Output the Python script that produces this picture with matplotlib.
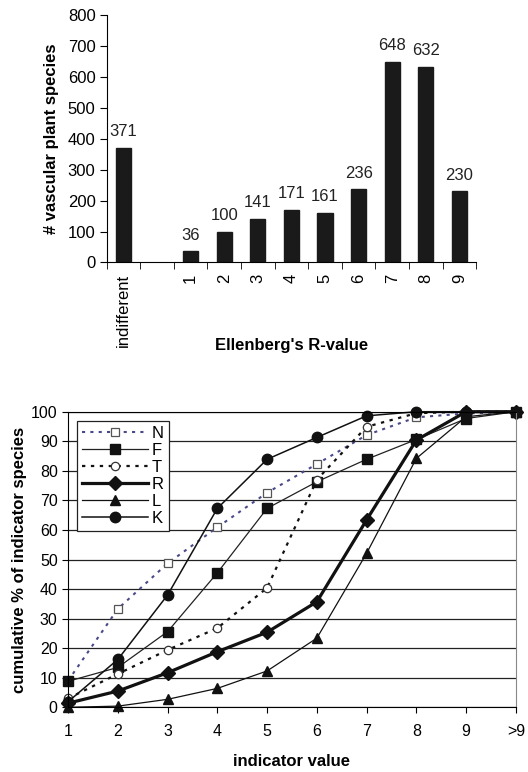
import numpy as np
import matplotlib
matplotlib.use('Agg')
import matplotlib.pyplot as plt

plt.rcParams['font.family'] = ['Liberation Sans', 'DejaVu Sans']

# top chart: number of species per Ellenberg R-value
r_categories = ['indifferent', '', '1', '2', '3', '4', '5', '6', '7', '8', '9']
r_counts = [371, None, 36, 100, 141, 171, 161, 236, 648, 632, 230]

# bottom chart: cumulative % of indicator species
ind_values = ['1', '2', '3', '4', '5', '6', '7', '8', '9', '>9']
cum_N = [9.0, 33.3, 48.7, 60.9, 72.6, 82.3, 92.1, 98.1, 99.4, 100]
cum_F = [8.8, 13.5, 25.6, 45.5, 67.3, 76.3, 83.9, 90.6, 97.7, 100]
cum_T = [3.0, 11.3, 19.4, 26.8, 40.4, 77.0, 94.9, 99.5, 100, 100]
cum_R = [1.4, 5.5, 11.7, 18.8, 25.4, 35.7, 63.4, 90.4, 100, 100]
cum_L = [0.0, 0.4, 2.7, 6.4, 12.3, 23.4, 52.1, 84.2, 98.3, 100]
cum_K = [1.9, 16.2, 38.0, 67.3, 83.9, 91.3, 98.6, 100, 100, 100]

fig = plt.figure(figsize=(5.28, 7.72), dpi=100)

# ---- top bar chart ----
ax1 = fig.add_axes([0.202, 0.660, 0.700, 0.3206])
xs = [i for i, v in enumerate(r_counts) if v is not None]
vals = [v for v in r_counts if v is not None]
ax1.bar(xs, vals, width=0.45, color='#1a1a1a', edgecolor='#1a1a1a')
for x, v in zip(xs, vals):
    ax1.text(x, v + 28, str(v), ha='center', va='bottom', fontsize=12, color='#222222')

ax1.set_xlim(-0.5, len(r_categories) - 0.5)
ax1.set_ylim(0, 800)
ax1.set_yticks(range(0, 801, 100))
ax1.set_xticks(np.arange(len(r_categories)))
ax1.set_xticklabels(r_categories, rotation=90, fontsize=12)
ax1.tick_params(axis='x', length=0, pad=8)
ax1.set_xticks(np.arange(-0.5, len(r_categories)), minor=True)
ax1.tick_params(axis='x', which='minor', length=5, direction='out')
ax1.tick_params(axis='y', labelsize=12, length=5, direction='out', pad=3)
for s in ['top', 'right']:
    ax1.spines[s].set_visible(False)
ax1.set_ylabel('# vascular plant species', fontsize=12, fontweight='bold')
ax1.yaxis.set_label_coords(-0.129, 0.5)
ax1.set_xlabel("Ellenberg's R-value", fontsize=12, fontweight='bold')
ax1.xaxis.set_label_coords(0.5, -0.306)

# ---- bottom line chart ----
ax2 = fig.add_axes([0.129, 0.0838, 0.848, 0.3829])
x = np.arange(len(ind_values))
ax2.set_axisbelow(True)
ax2.yaxis.grid(True, color='#222222', linewidth=0.9)

ax2.plot(x, cum_N, color='#4a4a8a', linestyle=(0, (1.5, 2.5)), linewidth=1.5,
         marker='s', markersize=6, markerfacecolor='white', markeredgecolor='#555555',
         markeredgewidth=0.9, label='N')
ax2.plot(x, cum_F, color='#222222', linestyle='-', linewidth=0.9,
         marker='s', markersize=7, markerfacecolor='#111111', markeredgecolor='#111111', label='F')
ax2.plot(x, cum_T, color='#111111', linestyle=(0, (1.5, 2.5)), linewidth=1.6,
         marker='o', markersize=6, markerfacecolor='white', markeredgecolor='#333333',
         markeredgewidth=0.9, label='T')
ax2.plot(x, cum_R, color='#111111', linestyle='-', linewidth=2.3,
         marker='D', markersize=7, markerfacecolor='#111111', label='R')
ax2.plot(x, cum_L, color='#111111', linestyle='-', linewidth=0.9,
         marker='^', markersize=6.5, markerfacecolor='#111111', label='L')
ax2.plot(x, cum_K, color='#111111', linestyle='-', linewidth=1.1,
         marker='o', markersize=7.5, markerfacecolor='#111111', label='K')

ax2.set_xlim(0, len(ind_values) - 1)
ax2.set_ylim(0, 100)
ax2.set_yticks(range(0, 101, 10))
ax2.set_xticks(x)
ax2.set_xticklabels(ind_values)
ax2.tick_params(axis='both', labelsize=11.5, length=4, direction='out')
ax2.tick_params(axis='x', pad=8)
ax2.spines['right'].set_color('#888888')
ax2.set_ylabel('cumulative % of indicator species', fontsize=12, fontweight='bold', labelpad=3)
ax2.set_xlabel('indicator value', fontsize=12, fontweight='bold', labelpad=11)

for line in ax2.get_lines():
    line.set_clip_on(False)

leg = ax2.legend(loc='upper left', bbox_to_anchor=(0.019, 0.968), fontsize=12,
                 handlelength=4.0, labelspacing=0.12, handletextpad=0.2,
                 borderpad=0.3, borderaxespad=0, fancybox=False, framealpha=1)
leg.get_frame().set_edgecolor('#222222')
leg.get_frame().set_linewidth(0.9)

fig.savefig('out.png', dpi=100)
